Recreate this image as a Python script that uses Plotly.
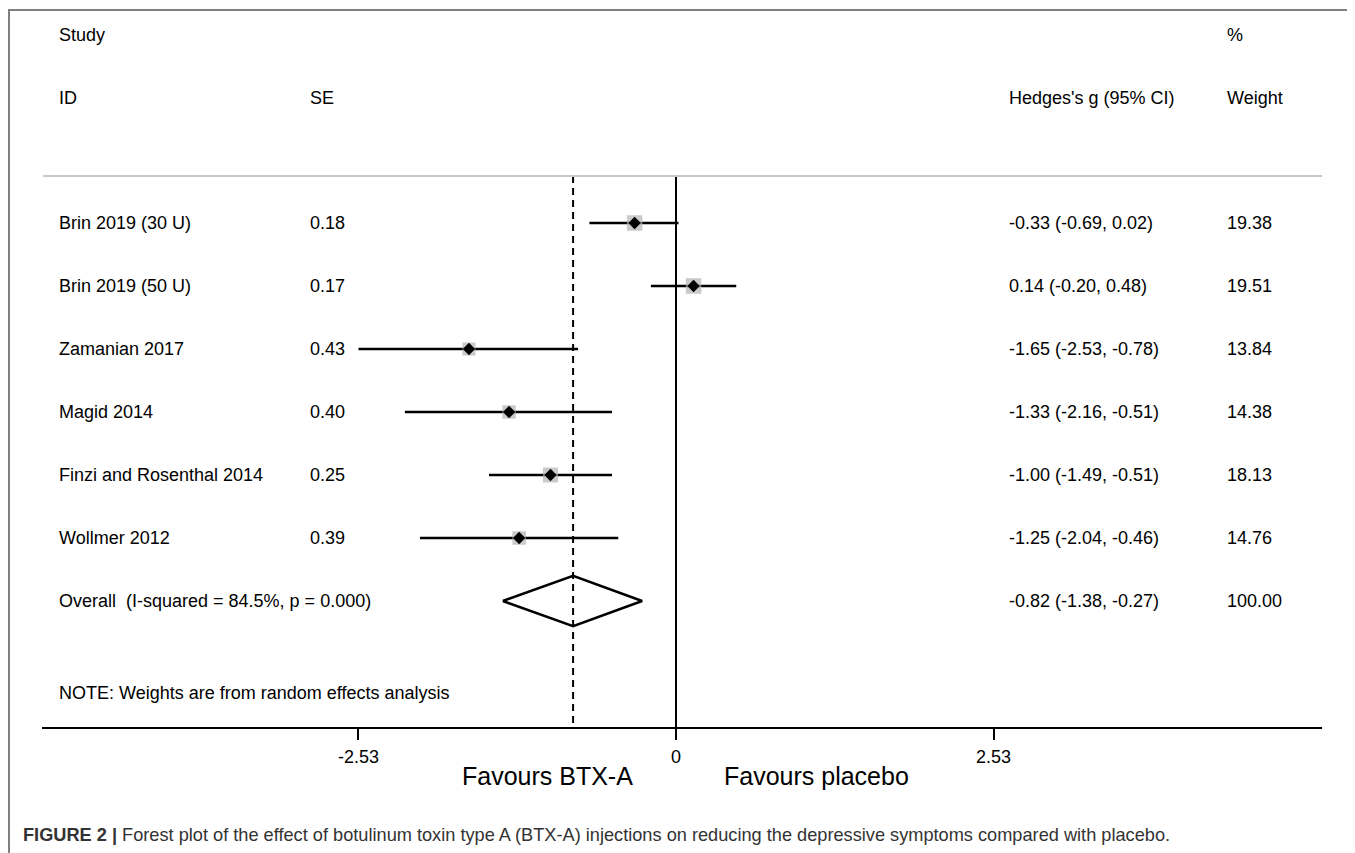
import plotly.graph_objects as go
import numpy as np

studies = ["Brin 2019 (30 U)", "Brin 2019 (50 U)", "Zamanian 2017", "Magid 2014",
           "Finzi and Rosenthal 2014", "Wollmer 2012"]
se = [0.18, 0.17, 0.43, 0.40, 0.25, 0.39]
g = [-0.33, 0.14, -1.65, -1.33, -1.00, -1.25]
lo = [-0.69, -0.20, -2.53, -2.16, -1.49, -2.04]
hi = [0.02, 0.48, -0.78, -0.51, -0.51, -0.46]
weight = [19.38, 19.51, 13.84, 14.38, 18.13, 14.76]

overall_label = "Overall  (I-squared = 84.5%, p = 0.000)"
overall_g = -0.82
overall_lo = -1.38
overall_hi = -0.27
overall_weight = 100.00

tick_vals = [-2.53, 0, 2.53]
tick_text = ["-2.53", "0", "2.53"]

# page body adds an 8px margin; positions below are given in window pixels
OFF = 8
W, H = 1355 - OFF, 853 - OFF
AX_L, AX_R, AX_Y = 42, 1322, 727
L = AX_L - OFF
R = W - (AX_R - OFF)
B = H - (AX_Y - OFF)
T = 0
PW, PH = W - L - R, H - T - B

FONT = "Liberation Sans, Arial, sans-serif"

def px2x(px):
    return (px - OFF - L) / PW

def py2y(py):
    return (H - B - (py - OFF)) / PH

ROW0, ROWH = 223, 63
rows = list(range(len(studies)))
overall_row = len(studies)

fig = go.Figure()

for i in rows:
    fig.add_trace(go.Scatter(x=[lo[i], hi[i]], y=[i, i], mode="lines",
                             line=dict(color="black", width=2.5),
                             hoverinfo="skip", showlegend=False))

box_sizes = [15.5 * np.sqrt(w / 19.38) for w in weight]
fig.add_trace(go.Scatter(x=g, y=rows, mode="markers",
                         marker=dict(symbol="square", size=box_sizes, color="#b4b4b4",
                                     line=dict(width=0)),
                         hoverinfo="skip", showlegend=False))
fig.add_trace(go.Scatter(x=g, y=rows, mode="markers",
                         marker=dict(symbol="diamond", size=9.5, color="black",
                                     line=dict(width=0)),
                         hoverinfo="skip", showlegend=False))

dh = 0.4
fig.add_trace(go.Scatter(x=[overall_lo, overall_g, overall_hi, overall_g, overall_lo],
                         y=[overall_row, overall_row - dh, overall_row, overall_row + dh, overall_row],
                         mode="lines", line=dict(color="black", width=2.5),
                         hoverinfo="skip", showlegend=False))

y_top_line = (176 - ROW0) / ROWH
y_bottom = (AX_Y - ROW0) / ROWH
y_top = (OFF - ROW0) / ROWH

shapes = []
shapes.append(dict(type="line", xref="x", yref="y", x0=0, x1=0, y0=y_top_line, y1=y_bottom,
                   line=dict(color="black", width=2), layer="below"))
shapes.append(dict(type="line", xref="x", yref="y", x0=overall_g, x1=overall_g,
                   y0=y_top_line, y1=y_bottom,
                   line=dict(color="black", width=2, dash="7px,5px"), layer="below"))
shapes.append(dict(type="line", xref="paper", yref="y", x0=px2x(43), x1=px2x(1322),
                   y0=y_top_line, y1=y_top_line, line=dict(color="#c8c8c8", width=2)))
shapes.append(dict(type="line", xref="paper", yref="paper", x0=px2x(9), x1=px2x(9),
                   y0=py2y(10), y1=py2y(860), line=dict(color="#808080", width=2)))
shapes.append(dict(type="line", xref="paper", yref="paper", x0=px2x(8), x1=px2x(1360),
                   y0=py2y(10), y1=py2y(10), line=dict(color="#808080", width=2)))

ann = []
def txt(x, y, s, xref="paper", yref="paper", size=18, xanchor="left", font=FONT, color="black"):
    ann.append(dict(x=x, y=y, xref=xref, yref=yref, text=s, showarrow=False,
                    xanchor=xanchor, yanchor="middle",
                    font=dict(family=font, size=size, color=color)))

col_id, col_se, col_es, col_w = 57, 308, 1007, 1225
txt(px2x(col_id), py2y(35), "Study")
txt(px2x(col_w), py2y(35), "%")
txt(px2x(col_id), py2y(98), "ID")
txt(px2x(col_se), py2y(98), "SE")
txt(px2x(col_es), py2y(98), "Hedges's g (95% CI)")
txt(px2x(col_w), py2y(98), "Weight")

for i in rows:
    txt(px2x(col_id), i, studies[i], yref="y")
    txt(px2x(col_se), i, f"{se[i]:.2f}", yref="y")
    txt(px2x(col_es), i, f"{g[i]:.2f} ({lo[i]:.2f}, {hi[i]:.2f})", yref="y")
    txt(px2x(col_w), i, f"{weight[i]:.2f}", yref="y")

txt(px2x(col_id), overall_row, overall_label, yref="y")
txt(px2x(col_es), overall_row,
    f"{overall_g:.2f} ({overall_lo:.2f}, {overall_hi:.2f})", yref="y")
txt(px2x(col_w), overall_row, f"{overall_weight:.2f}", yref="y")

txt(px2x(col_id), py2y(693), "NOTE: Weights are from random effects analysis")

txt(px2x(547), py2y(776), "Favours BTX-A", size=25, xanchor="center")
txt(px2x(816), py2y(776), "Favours placebo", size=25, xanchor="center")

txt(px2x(21), py2y(835),
    "<b>FIGURE 2 |</b> Forest plot of the effect of botulinum toxin type A (BTX-A) injections on reducing the depressive symptoms compared with placebo.",
    size=18.2, color="#333333")

x_lo = (AX_L - 676) / 125.5
x_hi = (AX_R - 676) / 125.5

fig.update_layout(
    width=W, height=H,
    margin=dict(l=L, r=R, t=T, b=B),
    paper_bgcolor="white", plot_bgcolor="white",
    shapes=shapes, annotations=ann,
    xaxis=dict(range=[x_lo, x_hi], showgrid=False, zeroline=False,
               showline=True, linecolor="black", linewidth=2,
               tickmode="array", tickvals=tick_vals, ticktext=tick_text,
               ticks="outside", ticklen=11, tickwidth=2, tickcolor="black",
               ticklabelstandoff=1,
               tickfont=dict(family=FONT, size=18, color="black"),
               fixedrange=True),
    yaxis=dict(range=[y_bottom, y_top], showgrid=False, zeroline=False,
               showline=False, showticklabels=False, ticks="", fixedrange=True),
)

fig.write_html("out.html")
